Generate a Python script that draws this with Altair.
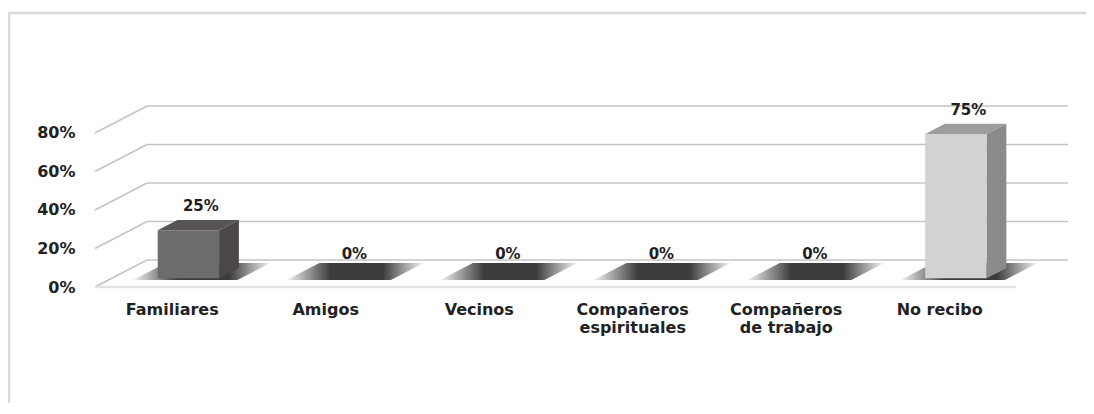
import json
import altair as alt
import pandas as pd

# ---- data ----
categories = ["Familiares", "Amigos", "Vecinos", "Compañeros espirituales",
              "Compañeros de trabajo", "No recibo"]
values = [0.25, 0.0, 0.0, 0.0, 0.0, 0.75]
value_labels = ["25%", "0%", "0%", "0%", "0%", "75%"]
tick_labels = [["Familiares"], ["Amigos"], ["Vecinos"], ["Compañeros", "espirituales"],
               ["Compañeros", "de trabajo"], ["No recibo"]]
y_ticks = [0.0, 0.2, 0.4, 0.6, 0.8]

# ---- pseudo-3D geometry (in data units) ----
N = len(categories)
DX, DY = 0.339, 0.14          # depth of the floor projected on x / y
F0, F1 = 0.32, 0.70           # bar front / back as depth fractions
BW = 0.40                     # bar width (category units)
SF0, SF1, SW = 0.26, 0.89, 0.68  # shadow depth range and width
XMAX, YMAX = N + DX, 0.8 + DY

front_colors = ["#6e6b6b", "#6e6b6b", "#6e6b6b", "#6e6b6b", "#6e6b6b", "#d2d2d2"]
side_colors = ["#4b4747", "#4b4747", "#4b4747", "#4b4747", "#4b4747", "#8b8b8b"]
top_colors = ["#585454", "#585454", "#585454", "#585454", "#585454", "#9d9d9d"]

front, side, top, shadow, labels = [], [], [], [], []
for i, (c, v, lab) in enumerate(zip(categories, values, value_labels)):
    ctr = i + 0.5
    front.append({"cat": c, "x": ctr - BW / 2 + F0 * DX, "x2": ctr + BW / 2 + F0 * DX,
                  "y": F0 * DY, "y2": F0 * DY + v})
    for f in (F0, F1):
        side.append({"cat": c, "x": ctr + BW / 2 + f * DX, "y": f * DY, "y2": f * DY + v})
        if v > 0:
            top.append({"cat": c, "y": v + f * DY, "x": ctr - BW / 2 + f * DX,
                        "x2": ctr + BW / 2 + f * DX})
    for f in (SF0, SF1):
        shadow.append({"cat": c, "y": f * DY, "x": ctr - SW / 2 + f * DX,
                       "x2": ctr + SW / 2 + f * DX})
    labels.append({"cat": c, "x": ctr + 0.56 * DX, "y": v + F1 * DY, "text": lab})

back_grid = pd.DataFrame([{"x": DX, "x2": N + DX, "y": t + DY} for t in y_ticks])
diag_grid = pd.DataFrame([{"x": 0.0, "x2": DX, "y": t, "y2": t + DY} for t in y_ticks])
floor_line = pd.DataFrame([{"x": 0.0, "x2": float(N), "y": 0.0}])

xs = alt.Scale(domain=[0, XMAX], nice=False, zero=False)
ys = alt.Scale(domain=[0, YMAX], nice=False, zero=False)
FONT = "DejaVu Sans"
GRID = "#c4c4c4"

label_expr = json.dumps(tick_labels, ensure_ascii=False) + "[floor(datum.value)]"
X_AXIS = alt.Axis(
    values=[i + 0.5 for i in range(N)], labelExpr=label_expr,
    domain=False, ticks=False, grid=False, labelOverlap=False, labelFlush=False,
    labelFont=FONT, labelFontWeight="bold", labelFontSize=16, labelColor="#222222",
    labelPadding=14, labelLineHeight=18, title=None)
Y_AXIS = alt.Axis(
    values=y_ticks, format=".0%", domain=False, ticks=False, grid=False,
    labelFont=FONT, labelFontWeight="bold", labelFontSize=16, labelColor="#222222",
    labelPadding=20, title=None)


def X(field):
    return alt.X(field, scale=xs, axis=X_AXIS)


def Y(field):
    return alt.Y(field, scale=ys, axis=Y_AXIS)


# frame (decoration around the whole chart)
frame_df = pd.DataFrame([{"k": 0}])
frame_top = alt.Chart(frame_df).mark_rule(color="#dadada", strokeWidth=2.5).encode(
    x=alt.value(-86), x2=alt.value(995), y=alt.value(-93))
frame_left = alt.Chart(frame_df).mark_rule(color="#dadada", strokeWidth=2.5).encode(
    x=alt.value(-86), y=alt.value(-94), y2=alt.value(300))

back = alt.Chart(back_grid).mark_rule(color=GRID, strokeWidth=1.6).encode(
    x=X("x:Q"), x2="x2:Q", y=Y("y:Q"))

diag = alt.Chart(diag_grid).mark_rule(color=GRID, strokeWidth=1.6).encode(
    x=X("x:Q"), x2="x2:Q", y=Y("y:Q"), y2="y2:Q")

floor = alt.Chart(floor_line).mark_rule(color="#e2e2e2", strokeWidth=2.5).encode(
    x=X("x:Q"), x2="x2:Q", y=Y("y:Q"))

shadow_grad = alt.Gradient(
    gradient="linear", x1=0, x2=1, y1=0, y2=0,
    stops=[alt.GradientStop(color="#f4f4f4", offset=0),
           alt.GradientStop(color="#3c3c3c", offset=0.32),
           alt.GradientStop(color="#3c3c3c", offset=0.7),
           alt.GradientStop(color="#f4f4f4", offset=1)])
shadows = alt.Chart(pd.DataFrame(shadow)).mark_area(
    orient="horizontal", color=shadow_grad).encode(
    y=Y("y:Q"), x=X("x:Q"), x2="x2:Q", detail="cat:N")

sides = alt.Chart(pd.DataFrame(side)).mark_area(orient="vertical").encode(
    x=X("x:Q"), y=Y("y:Q"), y2="y2:Q", detail="cat:N",
    color=alt.Color("cat:N", scale=alt.Scale(domain=categories, range=side_colors),
                    legend=None))

tops = alt.Chart(pd.DataFrame(top)).mark_area(orient="horizontal").encode(
    y=Y("y:Q"), x=X("x:Q"), x2="x2:Q", detail="cat:N",
    color=alt.Color("cat:N", scale=alt.Scale(domain=categories, range=top_colors),
                    legend=None))

fronts = alt.Chart(pd.DataFrame(front)).mark_rect().encode(
    x=X("x:Q"), x2="x2:Q", y=Y("y:Q"), y2="y2:Q",
    color=alt.Color("cat:N", scale=alt.Scale(domain=categories, range=front_colors),
                    legend=None))

texts = alt.Chart(pd.DataFrame(labels)).mark_text(
    font=FONT, fontWeight="bold", fontSize=15, color="#1e1e1e",
    baseline="bottom", dy=-6).encode(
    x=X("x:Q"), y=Y("y:Q"), text="text:N")

chart = alt.layer(
    frame_top, frame_left, back, diag, floor, shadows, sides, tops, fronts, texts
).resolve_scale(color="independent").properties(
    width=973, height=181,
    autosize=alt.AutoSizeParams(type="none"),
    padding={"left": 87, "top": 98, "right": 18, "bottom": 116},
    background="white",
).configure_view(stroke=None)

chart.save("out.html", embed_options={"renderer": "svg", "actions": False})
